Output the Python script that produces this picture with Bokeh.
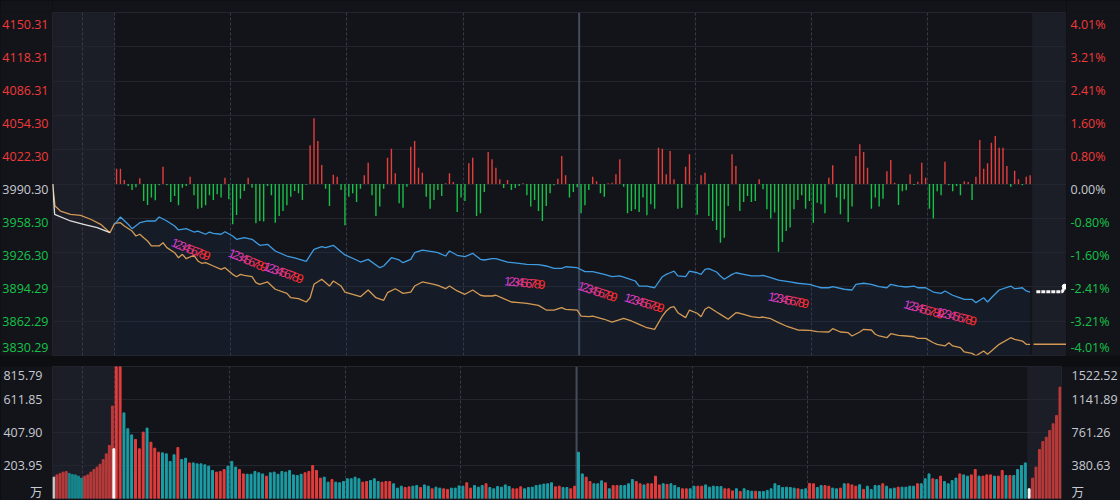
import numpy as np
from bokeh.plotting import figure
from bokeh.layouts import column, row
from bokeh.models import (ColumnDataSource, Range1d, LinearAxis, FixedTicker, Span,
                          BoxAnnotation)
from bokeh.core.properties import value
from bokeh.embed import file_html
from bokeh.resources import INLINE

try:
    from bokeh.models import GlobalInlineStyleSheet
except Exception:
    GlobalInlineStyleSheet = None

# ---------------------------------------------------------------- data
prev_close = 3990.30
price_ticks = [4150.31, 4118.31, 4086.31, 4054.30, 4022.30, 3990.30,
               3958.30, 3926.30, 3894.29, 3862.29, 3830.29]
pct_labels = ["4.01%", "3.21%", "2.41%", "1.60%", "0.80%", "0.00%",
              "-0.80%", "-1.60%", "-2.41%", "-3.21%", "-4.01%"]
vol_left_ticks = [0.0, 203.95, 407.90, 611.85, 815.79]
vol_right_ticks = [0.0, 380.63, 761.26, 1141.89, 1522.52]
vol_unit = "万"

# session time grid (minute slots, 0 = 9:31); half-hour marks and noon
half_hours = [29.5, 59.5, 89.5, 149.5, 179.5, 209.5]
open_mark = -0.5
auction_mark = -8.8
noon_mark = 119.5
close_mark = 236.5

# price line (blue)  (minute, price)
blue = [(-0.5, 3952.7), (1, 3959.5), (3, 3952.7), (4, 3948.6), (6, 3954.2), (8, 3955.8),
        (10, 3955.8), (11, 3959.5), (13, 3955.8), (15, 3951.1), (16, 3947.4), (18, 3948.6),
        (20, 3945.5), (21, 3946.4), (23, 3943.4), (24, 3945.5), (25, 3944.3), (27, 3943.4),
        (28, 3945.8), (30, 3941.8), (31, 3938.7), (33, 3940.2), (35, 3938.7), (37, 3933.1),
        (39, 3934.0), (41, 3927.8), (44, 3923.1), (46, 3921.3), (49, 3918.2), (51, 3929.4),
        (53, 3931.8), (54, 3930.9), (56, 3933.1), (59, 3924.1), (62, 3919.4), (63, 3917.5),
        (65, 3920.0), (68, 3912.2), (69, 3913.8), (71, 3921.5), (73, 3919.4), (74, 3916.9),
        (76, 3920.0), (77, 3926.2), (79, 3928.7), (82, 3926.9), (83, 3926.2), (85, 3923.1),
        (86, 3927.8), (88, 3923.8), (90, 3922.5), (92, 3925.6), (94, 3920.0), (95, 3919.4),
        (97, 3920.6), (98, 3920.6), (101, 3917.5), (104, 3916.3), (106, 3915.4), (109, 3915.0),
        (111, 3913.8), (113, 3911.6), (115, 3911.6), (116, 3913.1), (119, 3912.2), (121, 3908.5),
        (123, 3908.5), (126, 3906.0), (128, 3903.8), (130, 3904.5), (132, 3902.3), (134, 3899.8),
        (135, 3895.1), (137, 3895.1), (139, 3893.5), (141, 3903.8), (142, 3906.0), (143, 3907.5),
        (144, 3909.1), (145, 3904.5), (147, 3903.8), (148, 3909.1), (150, 3907.5), (151, 3906.0),
        (152, 3910.7), (153, 3911.3), (155, 3908.2), (156, 3904.5), (157, 3901.4), (159, 3906.0),
        (160, 3907.5), (162, 3906.0), (164, 3904.5), (166, 3904.5), (167, 3905.1), (169, 3902.9),
        (171, 3900.7), (174, 3898.9), (176, 3897.7), (179, 3896.7), (181, 3894.5), (182, 3893.5),
        (184, 3893.5), (185, 3894.5), (188, 3892.1), (190, 3891.4), (191, 3896.7), (193, 3897.7),
        (195, 3896.7), (197, 3894.5), (199, 3893.5), (200, 3896.7), (202, 3895.1), (204, 3894.2),
        (206, 3895.1), (207, 3893.5), (209, 3893.5), (211, 3889.5), (213, 3888.3), (214, 3890.5),
        (216, 3886.5), (217, 3885.2), (219, 3882.7), (221, 3882.7), (222, 3879.6), (224, 3884.2),
        (225, 3880.2), (226, 3884.2), (228, 3891.4), (231, 3895.1), (232, 3892.6), (234, 3893.5),
        (235, 3890.5), (236, 3889.5)]

# average line (orange), including the pre-open auction part
orange = [(-16.5, 3990.3), (-15.9, 3969.8), (-14.5, 3965.1), (-11.9, 3962.0), (-9.3, 3961.1),
          (-6.7, 3957.4), (-4.1, 3952.7), (-1.7, 3944.9), (-0.5, 3953.6), (1, 3954.2),
          (2, 3951.1), (4, 3946.4), (5, 3941.8), (6, 3943.4), (7, 3940.2), (8, 3937.1),
          (9, 3932.5), (11, 3932.5), (12, 3935.5), (13, 3930.9), (15, 3926.2), (16, 3921.5),
          (17, 3924.7), (18, 3920.6), (20, 3923.8), (21, 3918.5), (22, 3916.3), (23, 3916.9),
          (25, 3913.8), (27, 3910.7), (28, 3912.2), (30, 3906.0), (31, 3903.8), (32, 3906.0),
          (33, 3905.1), (35, 3903.8), (36, 3898.2), (37, 3896.7), (39, 3898.9), (41, 3892.1),
          (44, 3888.3), (45, 3884.2), (47, 3883.3), (49, 3880.2), (50, 3884.2), (51, 3896.7),
          (53, 3901.4), (55, 3895.1), (56, 3899.8), (58, 3895.1), (59, 3889.5), (61, 3887.4),
          (63, 3885.2), (65, 3891.4), (67, 3884.2), (69, 3881.8), (70, 3888.9), (72, 3892.6),
          (73, 3890.5), (74, 3888.3), (76, 3889.5), (77, 3895.1), (79, 3898.9), (82, 3896.7),
          (83, 3895.8), (85, 3892.6), (86, 3895.1), (88, 3890.5), (90, 3887.4), (92, 3891.4),
          (94, 3886.5), (95, 3885.8), (97, 3885.8), (98, 3886.5), (100, 3883.3), (102, 3880.2),
          (104, 3879.6), (106, 3879.0), (109, 3877.1), (111, 3872.7), (113, 3872.7), (115, 3874.9),
          (116, 3873.4), (119, 3872.7), (120, 3867.1), (122, 3866.5), (123, 3867.1), (126, 3864.1),
          (128, 3861.5), (131, 3865.0), (133, 3862.5), (135, 3859.4), (137, 3856.2), (139, 3854.7),
          (141, 3867.1), (142, 3871.8), (143, 3874.9), (144, 3875.8), (145, 3870.2), (147, 3865.6),
          (148, 3872.7), (150, 3869.7), (151, 3866.5), (152, 3873.4), (153, 3875.5), (155, 3870.9),
          (156, 3868.7), (158, 3864.1), (160, 3870.2), (161, 3869.7), (162, 3868.7), (164, 3866.5),
          (166, 3865.6), (167, 3866.2), (169, 3864.6), (171, 3860.9), (173, 3857.8), (175, 3855.3),
          (176, 3854.1), (179, 3853.8), (181, 3852.5), (184, 3852.2), (185, 3855.3), (187, 3852.2),
          (189, 3851.6), (190, 3848.5), (192, 3852.2), (193, 3854.7), (195, 3854.1), (196, 3850.1),
          (197, 3848.5), (199, 3846.9), (200, 3850.6), (202, 3849.1), (204, 3848.5), (206, 3847.8),
          (207, 3846.3), (209, 3846.3), (211, 3842.2), (212, 3840.7), (214, 3839.2), (215, 3842.2),
          (216, 3839.2), (218, 3837.6), (219, 3833.6), (221, 3832.3), (222, 3830.0), (224, 3834.5),
          (225, 3831.4), (226, 3834.5), (228, 3840.7), (231, 3846.9), (232, 3845.4), (234, 3843.8),
          (235, 3840.7), (236, 3840.7)]

# pre-open auction price (white)
pre_price = [(-16.5, 3990.3), (-16.0, 3962.0), (-11.9, 3955.8), (-8.5, 3952.7),
             (-5.0, 3949.5), (-1.7, 3944.9)]
# after-close fixed price session
post_price = [(237.6, 3889.8), (244.3, 3889.8), (244.95, 3894.5)]
post_avg = [(236.9, 3840.7), (245.4, 3840.7)]

# per-minute strength bars (price points around previous close)
strength = [14.3, 14.3, 3.7, -1.9, -5.6, -3.1, 5.3, -15.9, -19.6, -12.7,
            -15.2, -1.2, 16.2, -1.2, -16.8, -11.2, -19.9, -3.4, -1.9, 6.8,
            -10.6, -23.0, -22.1, -19.9, -10.6, -14.9, -9.6, -12.7, 5.9, -14.3,
            -37.6, -28.9, -13.7, -6.5, 5.9, -3.4, -36.7, -34.5, -35.1, -1.9,
            -10.6, -36.1, -29.9, -25.2, -19.9, -11.8, -6.5, -8.7, -14.9, -0.6,
            36.1, 61.3, 40.1, 17.7, -4.4, -20.5, 8.7, 6.8, -5.6, -38.6,
            -11.8, -8.7, -16.8, -4.4, 8.1, 19.9, -10.6, -29.9, -21.1, -4.4,
            24.6, 33.0, 10.0, -18.0, -22.1, -2.5, 34.8, 40.1, 15.2, 10.6,
            -11.8, -23.0, -14.9, -5.6, -11.2, 0.6, 10.0, 1.9, -26.1, -12.7,
            -15.9, 19.3, 24.6, -29.9, -27.4, -7.5, 29.9, 23.0, 15.2, 4.4,
            -3.7, 3.7, -5.6, -3.7, -1.9, 0.6, -10.6, -21.1, -14.9, -25.2,
            -34.5, -20.5, -8.7, -1.2, 5.0, 26.1, 8.1, -12.7, -7.5, -3.0,
            -27.4, -19.9, -5.6, 6.8, 2.5, -8.7, -11.8, 0.6, 1.2, 9.0,
            23.0, -2.5, -27.4, -25.2, -23.6, -26.1, -12.7, -29.2, -19.0, -23.0,
            33.9, 33.0, 9.0, 30.8, 4.4, -23.0, -22.1, 16.2, 27.7, 0.0,
            -28.6, 8.1, 10.6, -29.9, -34.5, -42.9, -54.7, -50.1, -20.5, 27.7,
            16.8, -25.2, -16.8, -11.2, -16.8, -15.9, 4.4, -5.0, -23.6, -32.3,
            -26.7, -63.1, -54.1, -43.8, -40.7, -23.6, -14.9, -10.6, -23.0, -15.9,
            -36.1, -17.4, -19.0, -27.4, 5.9, 17.4, -12.7, -28.3, -14.3, -35.4,
            -21.1, 26.1, 37.0, 29.9, 15.2, -23.0, -12.7, -21.1, -13.7, 11.8,
            22.4, 1.2, -19.6, -6.8, -5.9, 9.0, -0.9, 2.2, 19.9, 5.9,
            -23.0, -32.3, -6.8, -10.6, 20.8, -1.2, -6.8, -1.9, -10.6, 2.5,
            1.9, -14.9, 6.8, 41.0, 14.3, 19.3, 38.6, 44.8, 33.9, 33.9,
            16.8, -2.5, 12.4, 4.4, -1.2, 6.8, 8.1]

# per-minute volume (万) and direction (u = up, d = down)
volume = [980, 1060, 529, 431, 393, 365, 307, 410, 435, 348,
          311, 286, 282, 276, 229, 270, 315, 241, 249, 220,
          220, 214, 214, 208, 200, 173, 163, 167, 179, 200,
          229, 194, 179, 152, 150, 150, 167, 159, 152, 138,
          159, 163, 150, 167, 163, 173, 146, 142, 150, 159,
          167, 204, 173, 126, 132, 101, 117, 101, 97, 105,
          122, 122, 132, 122, 101, 105, 111, 122, 105, 101,
          105, 105, 91, 64, 76, 68, 72, 76, 80, 68,
          84, 76, 60, 70, 64, 60, 56, 64, 64, 78,
          76, 97, 64, 80, 70, 80, 91, 68, 60, 74,
          70, 84, 74, 60, 60, 72, 60, 68, 70, 80,
          84, 89, 91, 97, 72, 76, 68, 68, 60, 76,
          286, 152, 132, 105, 91, 91, 109, 97, 60, 80,
          80, 80, 80, 91, 117, 105, 91, 84, 91, 91,
          138, 84, 91, 87, 91, 80, 68, 60, 60, 60,
          76, 76, 76, 84, 70, 76, 74, 74, 60, 60,
          47, 60, 43, 60, 49, 45, 45, 43, 43, 49,
          60, 91, 80, 68, 70, 68, 64, 60, 56, 60,
          93, 91, 68, 80, 80, 76, 64, 60, 64, 91,
          91, 84, 76, 85, 56, 76, 56, 80, 80, 91,
          76, 60, 64, 70, 70, 70, 76, 76, 91, 91,
          122, 152, 122, 117, 138, 105, 91, 111, 126, 152,
          146, 138, 146, 179, 138, 138, 146, 146, 138, 138,
          173, 142, 142, 142, 179, 204, 220]
volume_dir = ("uuddduuudu uudddduddu dddddduuud dduudddddu dddddddddu "
              "uuuudduddd dddduudddu uuddduuddu ddudduuddd duuddduddd "
              "ddduuudddd dddduudduu dduudddudu udddduuduu uududdduud "
              "duuddddduu ududdduddd dddddddudd uudduuddud uuududdddu "
              "ddduddddud ddududdddu dduuduuudu ududddd").replace(" ", "")

# auction volumes: pre-open (g = first print, w = matched) and closing auction
pre_volume = [132, 146, 155, 163, 167, 155, 148, 146, 138, 126,
              138, 146, 163, 179, 194, 212, 241, 276, 328, 571, 307]
pre_dir = "g" + "uuuu" + "ddddd" + "uuuuuuuuuu" + "w"
post_volume = [60, 126, 194, 303, 352, 379, 420, 462, 513, 688]
post_dir = "w" + "u" * 9

# floating "123456789" marks: (minute, price, tilt in degrees)
mark_text = "123456789"
marks = [(15.1, 3935.3, 21.6), (29.9, 3925.6, 23.0), (39.0, 3913.1, 19.7),
         (101.0, 3899.8, 5.4), (120.1, 3895.1, 18.5), (132.1, 3884.2, 17.0),
         (169.3, 3885.2, 11.4), (204.3, 3878.0, 16.0), (212.7, 3870.9, 14.7)]

assert len(strength) == 237 and len(volume) == 237 and len(volume_dir) == 237
assert len(pre_volume) == len(pre_dir) and len(post_volume) == len(post_dir)

# ---------------------------------------------------------------- style
BG = "#131419"
BAND = "#0d0e12"
SHADE = "#1b1d27"
GRID = "#23262f"
VDASH = "#363a49"
NOON = "#454b5e"
RED_TXT = "#f03a3a"
GREY_TXT = "#c6cad2"
GREEN_TXT = "#16c24a"
UP_BAR = "#e53e3c"
DOWN_BAR = "#17c249"
BLUE = "#3f9be0"
ORANGE = "#d49a55"
FILL = "#1f3a5c"
VOL_UP = "#e23d3d"
VOL_DOWN = "#1b9ea6"
AUC_UP = "#b93a3a"
AUC_DOWN = "#17868d"
FONT = "'Open Sans', 'Noto Sans CJK SC'"
TICK_FS = "12.5px"

W = 1120
LB, RB = 52, 54
FRAME_W = W - LB - RB
X0, X1 = -16.55, 245.4
TOP_H, TOP_TB, TOP_BB = 356, 12, 1
GAP = 10
VOL_H, VOL_TB, VOL_BB = 134, 0, 2
P_MIN, P_MAX = price_ticks[-1], price_ticks[0]
V_MAX = vol_left_ticks[-1]
VR_MAX = vol_right_ticks[-1]


def base_fig(width, height, y_range, lb, rb, tb, bb, yloc):
    p = figure(width=width, height=height, x_range=Range1d(X0, X1), y_range=y_range,
               output_backend="svg", toolbar_location=None, title=None,
               x_axis_location=None, y_axis_location=yloc,
               min_border_left=lb, min_border_right=rb,
               min_border_top=tb, min_border_bottom=bb,
               background_fill_color=BG, border_fill_color=BG,
               outline_line_color=GRID, outline_line_width=1)
    p.xgrid.ticker = FixedTicker(ticks=[auction_mark, open_mark] + half_hours)
    p.xgrid.grid_line_color = VDASH
    p.xgrid.grid_line_dash = "3 2"
    p.xgrid.grid_line_width = 1
    p.ygrid.grid_line_color = GRID
    p.ygrid.grid_line_width = 1
    p.add_layout(BoxAnnotation(left=X0, right=open_mark, fill_color=SHADE, fill_alpha=1.0,
                               line_alpha=0, level="image"))
    p.add_layout(BoxAnnotation(left=close_mark, right=X1, fill_color=SHADE, fill_alpha=1.0,
                               line_alpha=0, level="image"))
    p.add_layout(Span(location=noon_mark, dimension="height", line_color=NOON,
                      line_width=2, level="underlay"))
    return p


# ---------------------------------------------------------------- top panel
p1 = base_fig(FRAME_W, TOP_H, Range1d(P_MIN, P_MAX), 0, 0, TOP_TB, TOP_BB, None)
p1.ygrid.ticker = FixedTicker(ticks=price_ticks[1:-1])

minutes = np.arange(len(strength))
bt, bv = zip(*blue)
ot, ov = zip(*orange)

p1.varea(x=list(bt), y1=P_MIN, y2=list(bv), fill_color=FILL, fill_alpha=0.22)

s_arr = np.array(strength)
bar_src = ColumnDataSource(dict(
    t=minutes, bottom=[prev_close] * len(s_arr), top=prev_close + s_arr,
    bar_color=[UP_BAR if s > 0 else DOWN_BAR for s in s_arr]))
p1.vbar(x="t", width=0.36, bottom="bottom", top="top", fill_color="bar_color",
        line_color=None, source=bar_src)

p1.line(list(ot), list(ov), line_color=ORANGE, line_width=1.3)
p1.line(list(bt), list(bv), line_color=BLUE, line_width=1.3)
pt, pv = zip(*pre_price)
p1.line(list(pt), list(pv), line_color="#dedede", line_width=1.3)
qt, qv = zip(*post_avg)
p1.line(list(qt), list(qv), line_color=ORANGE, line_width=1.5)
wt, wv = zip(*post_price)
p1.line(list(wt), list(wv), line_color="#f4f4f4", line_width=3, line_dash="4 1")
p1.scatter([wt[-1]], [wv[-1]], size=5, fill_color="#ffffff", line_color="#ffffff")

# floating marks, one glyph per character along a tilted baseline
frame_h = TOP_H - TOP_TB - TOP_BB
ppx = FRAME_W / (X1 - X0)
ppy = frame_h / (P_MAX - P_MIN)
step = 4.3
c_start = np.array([212, 62, 212])
c_end = np.array([255, 44, 44])
mx, my, mt, ma, mc = [], [], [], [], []
for t0, v0, deg in marks:
    a = np.radians(deg)
    n = len(mark_text)
    for i, ch in enumerate(mark_text):
        d = i * step
        mx.append(t0 + d * np.cos(a) / ppx)
        my.append(v0 - d * np.sin(a) / ppy)
        mt.append(ch)
        ma.append(-a)
        col = c_start + (c_end - c_start) * (i / (n - 1))
        mc.append("#%02x%02x%02x" % tuple(int(round(z)) for z in col))
mark_src = ColumnDataSource(dict(x=mx, y=my, txt=mt, ang=ma, mark_color=mc))
p1.text(x="x", y="y", text="txt", angle="ang", text_color="mark_color", source=mark_src,
        text_font=value("Liberation Sans"), text_font_size="12.5px",
        text_align="center", text_baseline="middle")

# side strips carrying the coloured price / percent scale, same vertical scale as p1
lab_colors = []
for v in price_ticks:
    if v > prev_close + 0.001:
        lab_colors.append(RED_TXT)
    elif abs(v - prev_close) < 0.001:
        lab_colors.append(GREY_TXT)
    else:
        lab_colors.append(GREEN_TXT)
strip_lo = P_MIN - TOP_BB / ppy
strip_hi = P_MAX + TOP_TB / ppy
label_y = [max(v, P_MIN + 7.0 / ppy) for v in price_ticks]


def label_strip(width, texts, anchor, align, xoff):
    f = figure(width=width, height=TOP_H, x_range=Range1d(0, 1),
               y_range=Range1d(strip_lo, strip_hi),
               output_backend="svg", toolbar_location=None, title=None,
               x_axis_location=None, y_axis_location=None, min_border=0,
               background_fill_color=BG, border_fill_color=BG, outline_line_color=None)
    f.grid.visible = False
    src = ColumnDataSource(dict(x=[anchor] * len(texts), y=label_y, txt=texts,
                                lab_color=lab_colors))
    f.text(x="x", y="y", text="txt", text_color="lab_color", source=src, x_offset=xoff,
           text_align=align, text_baseline="middle", text_font=value(FONT),
           text_font_size=TICK_FS)
    return f


left_strip = label_strip(LB, ["%.2f" % v for v in price_ticks], 1.0, "right", -4)
right_strip = label_strip(RB, pct_labels, 0.0, "left", 4)

# ---------------------------------------------------------------- volume panel
p2 = base_fig(W, VOL_H, Range1d(0, V_MAX), LB, RB, VOL_TB, VOL_BB, "left")
p2.extra_y_ranges = {"right": Range1d(0, VR_MAX)}
p2.ygrid.ticker = FixedTicker(ticks=vol_left_ticks[1:-1])

vol_frame_h = VOL_H - VOL_TB - VOL_BB
top_inset, bottom_inset = 7, 6


def label_positions(ticks, vmax):
    pos = [round(vmax * bottom_inset / vol_frame_h, 2)] + list(ticks[1:-1]) + \
          [round(vmax * (1 - top_inset / vol_frame_h), 2)]
    txt = [vol_unit] + ["%.2f" % v for v in ticks[1:]]
    return pos, dict(zip(pos, txt))


lpos, lmap = label_positions(vol_left_ticks, V_MAX)
rpos, rmap = label_positions(vol_right_ticks, VR_MAX)
yl = p2.yaxis[0]
yl.ticker = FixedTicker(ticks=lpos)
yl.major_label_overrides = lmap
yr = LinearAxis(y_range_name="right", ticker=FixedTicker(ticks=rpos), major_label_overrides=rmap)
p2.add_layout(yr, "right")
for ax in (yl, yr):
    ax.axis_line_color = None
    ax.major_tick_line_color = None
    ax.minor_tick_line_color = None
    ax.major_label_standoff = 4
    ax.major_label_text_color = GREY_TXT
    ax.major_label_text_font = FONT
    ax.major_label_text_font_size = TICK_FS

main_colors = [VOL_UP if d == "u" else VOL_DOWN for d in volume_dir]
p2.vbar(x=minutes, width=0.5, top=volume, bottom=0, color=main_colors)

auc_map = {"u": AUC_UP, "d": AUC_DOWN, "g": "#c8c8c8", "w": "#ffffff"}
pre_slots = list(np.linspace(-16.2, -1.0, len(pre_volume) - 1)) + [-0.62]
p2.vbar(x=pre_slots, width=0.5, top=pre_volume, bottom=0,
        color=[auc_map[d] for d in pre_dir])
post_slots = list(np.linspace(237.0, 245.0, len(post_volume)))
p2.vbar(x=post_slots, width=0.5, top=post_volume, bottom=0,
        color=[auc_map[d] for d in post_dir])

# ---------------------------------------------------------------- page
top_row = row(left_strip, p1, right_strip, spacing=0)
layout = column(top_row, p2, spacing=GAP, styles={"background-color": BAND})
if GlobalInlineStyleSheet is not None:
    layout.stylesheets = [GlobalInlineStyleSheet(css="body{background-color:%s;}" % BG)]

open("out.html", "w").write(file_html(layout, INLINE))
